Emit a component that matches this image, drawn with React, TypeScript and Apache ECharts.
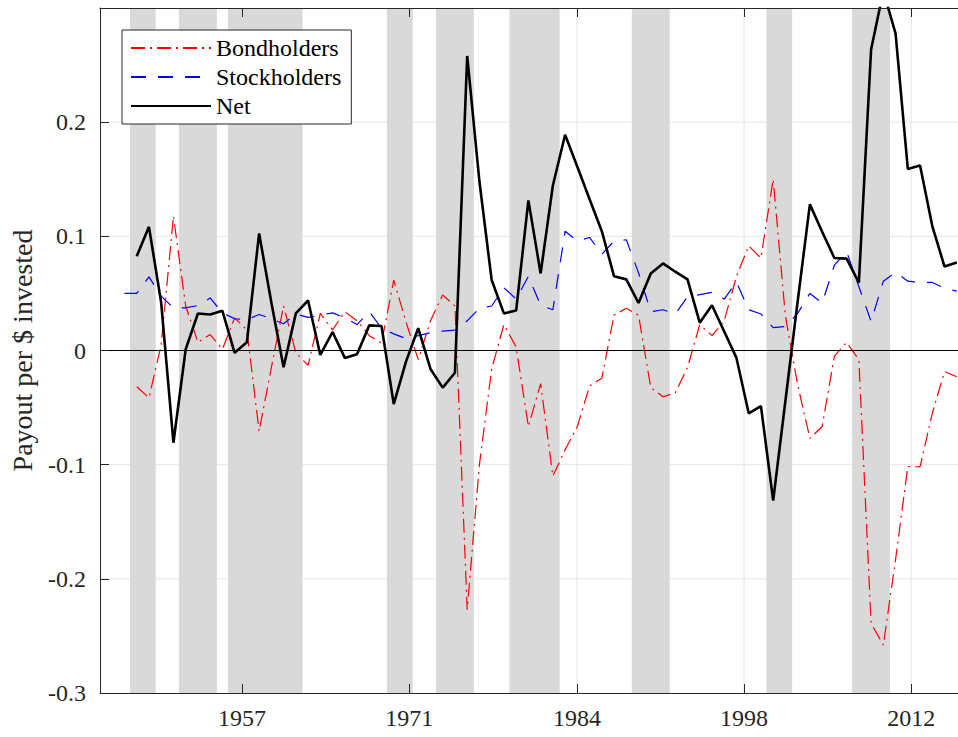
import React, { useEffect, useRef } from 'react';
import * as echarts from 'echarts';

const years = [
  1947, 1948, 1949, 1950, 1951, 1952, 1953, 1954, 1955, 1956, 1957, 1958, 1959,
  1960, 1961, 1962, 1963, 1964, 1965, 1966, 1967, 1968, 1969, 1970, 1971, 1972,
  1973, 1974, 1975, 1976, 1977, 1978, 1979, 1980, 1981, 1982, 1983, 1984, 1985,
  1986, 1987, 1988, 1989, 1990, 1991, 1992, 1993, 1994, 1995, 1996, 1997, 1998,
  1999, 2000, 2001, 2002, 2003, 2004, 2005, 2006, 2007, 2008, 2009, 2010, 2011,
  2012, 2013, 2014, 2015,
];

const bondholders = [
  null, -0.0318, -0.0414, 0.005, 0.1176, 0.039, 0.0073, 0.014, 0.001, 0.0286, 0.018, -0.0707, -0.015,
  0.039, -0.002, -0.013, 0.0325, 0.018, 0.034, 0.026, 0.013, 0.0065, 0.0617, 0.025, -0.008, 0.026,
  0.0487, 0.039, -0.227, -0.1, -0.016, 0.0227, 0.003, -0.0666, -0.029, -0.11, -0.087, -0.0666, -0.031,
  -0.0244, 0.031, 0.037, 0.031, -0.0325, -0.0406, -0.037, -0.015, 0.0227, 0.013, 0.026, 0.065, 0.0916,
  0.081, 0.15, 0.03, -0.03, -0.077, -0.0666, -0.005, 0.007, -0.008, -0.239, -0.258, -0.183, -0.1016,
  -0.102, -0.055, -0.0184, -0.023,
];

const stockholders = [
  0.05, 0.05, 0.0645, 0.0476, 0.0374, 0.0374, 0.0394, 0.046, 0.033, 0.0278, 0.027, 0.0315, 0.028,
  0.0234, 0.032, 0.029, 0.031, 0.033, 0.0286, 0.0227, 0.034, 0.0195, 0.0146, 0.0104, 0.013, 0.0156,
  0.0169, 0.0179, 0.026, 0.037, 0.039, 0.055, 0.045, 0.065, 0.0396, 0.0357, 0.1045, 0.0958, 0.099,
  0.0844, 0.0958, 0.097, 0.068, 0.034, 0.0357, 0.032, 0.047, 0.049, 0.051, 0.045, 0.06, 0.0357,
  0.032, 0.02, 0.021, 0.0325, 0.05, 0.0416, 0.0747, 0.0867, 0.056, 0.0254, 0.0607, 0.0686, 0.0607,
  0.0596, 0.0596, 0.0546, 0.052,
];

const net = [
  null, 0.0826, 0.1083, 0.0418, -0.0808, 0.001, 0.0324, 0.0315, 0.0348, -0.002, 0.0073, 0.1025, 0.042,
  -0.0146, 0.0325, 0.0438, -0.0039, 0.0162, -0.0065, -0.0032, 0.022, 0.0214, -0.047, -0.0097, 0.0195, -0.0162,
  -0.0325, -0.0195, 0.258, 0.148, 0.0617, 0.0325, 0.035, 0.1315, 0.0675, 0.1445, 0.189, 0.161, 0.1325,
  0.1045, 0.065, 0.0623, 0.0416, 0.0675, 0.0763, 0.069, 0.0623, 0.0244, 0.0396, 0.0166, -0.0065, -0.055,
  -0.0487, -0.1315, -0.044, 0.043, 0.128, 0.104, 0.081, 0.0805, 0.0595, 0.2636, 0.315, 0.2776, 0.159,
  0.162, 0.109, 0.0735, 0.077,
];

// recession shading: first and last year covered
const recessionStart = [1948, 1952, 1956, 1969, 1973, 1979, 1989, 2000, 2007];
const recessionEnd = [1949, 1954, 1961, 1970, 1975, 1982, 1991, 2001, 2009];

// x tick positions (in the plot's year coordinate) and their labels
const xTickValues = [1956.6, 1970.27, 1983.97, 1997.62, 2011.28];
const xTickLabels = ['1957', '1971', '1984', '1998', '2012'];

const yGridValues = [-0.2, -0.1, 0.1, 0.2];

const FONT = 'Liberation Serif, serif';
const AXIS_COLOR = '#262626';
const GRID_COLOR = '#e5e5e5';
const X_MIN = 1945;
const X_MAX = 2015.1;

export default function App() {
  const ref = useRef<HTMLDivElement>(null);

  useEffect(() => {
    if (!ref.current) return;
    const chart = echarts.init(ref.current, undefined, { renderer: 'svg' });

    const pairs = (vals: (number | null)[]) =>
      years.map((y, i) => [y, vals[i]]).filter((p) => p[1] !== null);

    const xLabelFormatter = (v: number) => {
      let best = 0;
      let bd = Infinity;
      xTickValues.forEach((t, i) => {
        const d = Math.abs(t - v);
        if (d < bd) {
          bd = d;
          best = i;
        }
      });
      return xTickLabels[best];
    };

    const option: any = {
      animation: false,
      backgroundColor: '#ffffff',
      grid: { left: 100, right: 0, top: 8, bottom: 44, containLabel: false },
      xAxis: [
        {
          type: 'value',
          min: X_MIN,
          max: X_MAX,
          z: 5,
          axisLine: { show: true, onZero: false, lineStyle: { color: AXIS_COLOR, width: 1 } },
          axisTick: {
            show: true,
            inside: true,
            length: 9,
            customValues: xTickValues,
            lineStyle: { color: AXIS_COLOR, width: 1 },
          },
          axisLabel: {
            customValues: xTickValues,
            formatter: xLabelFormatter,
            fontFamily: FONT,
            fontSize: 24,
            color: AXIS_COLOR,
            margin: 13,
          },
          splitLine: { show: false },
        },
        {
          type: 'value',
          position: 'top',
          min: X_MIN,
          max: X_MAX,
          z: 5,
          axisLine: { show: true, onZero: false, lineStyle: { color: AXIS_COLOR, width: 1 } },
          axisTick: {
            show: true,
            inside: true,
            length: 9,
            customValues: xTickValues,
            lineStyle: { color: AXIS_COLOR, width: 1 },
          },
          axisLabel: { show: false },
          splitLine: { show: false },
        },
      ],
      yAxis: {
        type: 'value',
        min: -0.3,
        max: 0.3,
        interval: 0.1,
        z: 5,
        name: 'Payout per $ invested',
        nameLocation: 'middle',
        nameGap: 64,
        nameTextStyle: { fontFamily: FONT, fontSize: 28, color: AXIS_COLOR },
        axisLine: { show: true, onZero: false, lineStyle: { color: AXIS_COLOR, width: 1 } },
        axisTick: { show: true, inside: true, length: 9, lineStyle: { color: AXIS_COLOR, width: 1 } },
        axisLabel: {
          showMaxLabel: false,
          fontFamily: FONT,
          fontSize: 24,
          color: AXIS_COLOR,
          margin: 14,
          formatter: (v: number) => {
            const r = Math.round(v * 10) / 10;
            return r === 0 ? '0' : String(r);
          },
        },
        splitLine: { show: false },
      },
      legend: {
        data: ['Bondholders', 'Stockholders', 'Net'],
        orient: 'vertical',
        left: 122,
        top: 30,
        itemWidth: 80,
        itemHeight: 14,
        itemGap: 5,
        padding: [6, 10, 6, 8],
        borderColor: AXIS_COLOR,
        borderWidth: 1,
        backgroundColor: '#ffffff',
        itemStyle: { opacity: 0 },
        textStyle: { fontFamily: FONT, fontSize: 24, color: '#000000' },
        z: 10,
      },
      series: [
        {
          type: 'custom',
          name: 'vgrid',
          z: 0,
          silent: true,
          data: xTickValues.map((v) => [v]),
          renderItem: (params: any, api: any) => {
            const cs = params.coordSys;
            const x = api.coord([api.value(0), 0])[0];
            return {
              type: 'line',
              shape: { x1: x, y1: cs.y, x2: x, y2: cs.y + cs.height },
              style: { stroke: GRID_COLOR, lineWidth: 1 },
            };
          },
        },
        {
          type: 'custom',
          name: 'hgrid',
          z: 0,
          silent: true,
          data: yGridValues.map((v) => [v]),
          renderItem: (params: any, api: any) => {
            const cs = params.coordSys;
            const y = api.coord([1980, api.value(0)])[1];
            return {
              type: 'line',
              shape: { x1: cs.x, y1: y, x2: cs.x + cs.width, y2: y },
              style: { stroke: GRID_COLOR, lineWidth: 1 },
            };
          },
        },
        {
          type: 'custom',
          name: 'recessions',
          z: 1,
          silent: true,
          data: recessionStart.map((s, i) => [s, recessionEnd[i]]),
          renderItem: (params: any, api: any) => {
            const cs = params.coordSys;
            const x0 = api.coord([api.value(0) - 0.55, 0])[0];
            const x1 = api.coord([api.value(1) + 0.55, 0])[0];
            return {
              type: 'rect',
              shape: { x: x0, y: cs.y, width: x1 - x0, height: cs.height },
              style: { fill: '#d9d9d9' },
            };
          },
        },
        {
          name: 'Bondholders',
          type: 'line',
          z: 2,
          data: pairs(bondholders),
          showSymbol: false,
          symbol: 'none',
          lineStyle: { color: '#ff0000', width: 1.2, type: [14, 5, 2, 5] },
          itemStyle: { color: '#ff0000' },
          markLine: {
            silent: true,
            symbol: ['none', 'none'],
            label: { show: false },
            lineStyle: { color: '#000000', width: 1, type: 'solid' },
            data: [{ yAxis: 0 }],
          },
        },
        {
          name: 'Stockholders',
          type: 'line',
          z: 2,
          data: pairs(stockholders),
          showSymbol: false,
          symbol: 'none',
          lineStyle: { color: '#0000ff', width: 1.2, type: [15, 12] },
          itemStyle: { color: '#0000ff' },
        },
        {
          name: 'Net',
          type: 'line',
          z: 3,
          data: pairs(net),
          showSymbol: false,
          symbol: 'none',
          lineStyle: { color: '#000000', width: 2.6, type: 'solid' },
          itemStyle: { color: '#000000' },
        },
      ],
    };

    chart.setOption(option);
    return () => chart.dispose();
  }, []);

  return (
    <div
      ref={ref}
      style={{ position: 'absolute', left: 0, top: 0, width: 958, height: 737, background: '#fff' }}
    />
  );
}
